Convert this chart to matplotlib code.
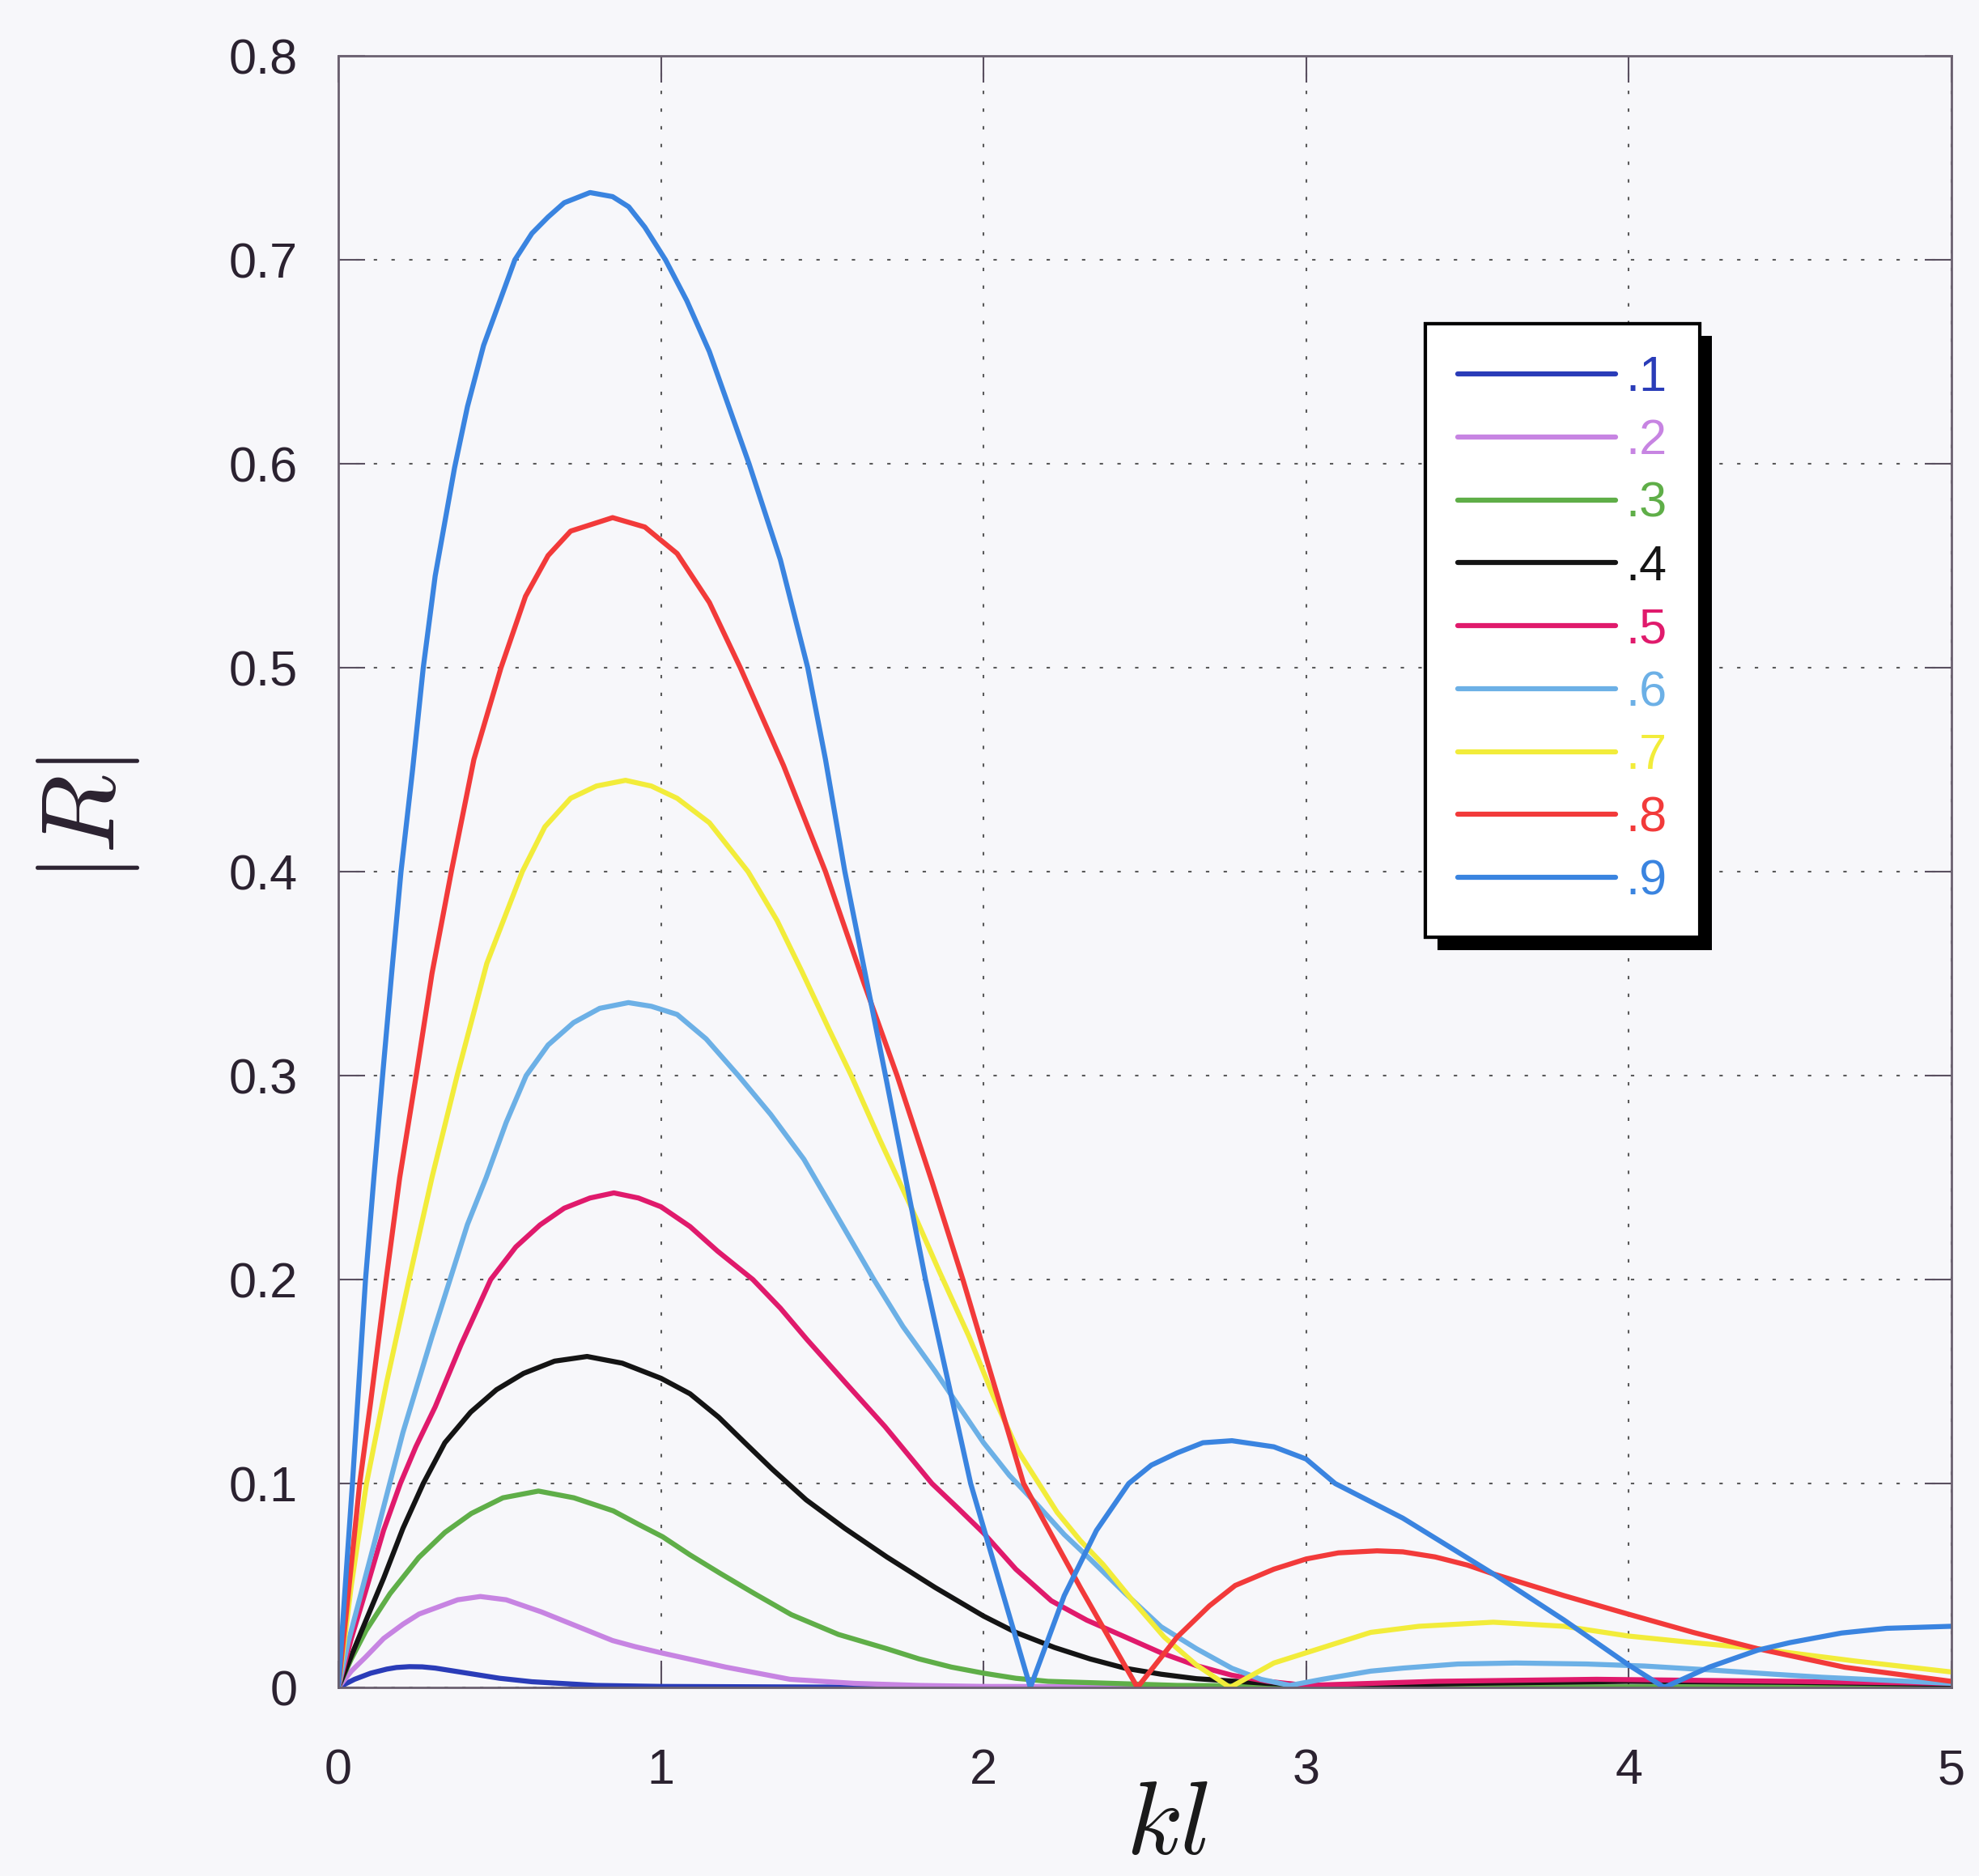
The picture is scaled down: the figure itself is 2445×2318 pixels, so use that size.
import matplotlib
matplotlib.use('Agg')
import matplotlib.pyplot as plt
import matplotlib.patheffects as pe

plt.rcParams['font.family'] = ['Liberation Sans', 'DejaVu Sans']
plt.rcParams['mathtext.fontset'] = 'cm'

# |R|, one (kl, |R|) list per parameter value
labels = ['.1', '.2', '.3', '.4', '.5', '.6', '.7', '.8', '.9']
colors = ['#2a3cb8', '#c784e2', '#5fae48', '#141414', '#e01a6c',
          '#6cb0e6', '#f2ec3a', '#f23a3a', '#3a84e0']

kl_1 = [0, 0.05, 0.1, 0.15, 0.18, 0.22, 0.26, 0.3, 0.4, 0.5, 0.6, 0.8, 1.0, 1.5, 2.0,
        3.0, 4.0, 5.0]
r_1 = [0, 0.004, 0.007, 0.009, 0.0098, 0.0102, 0.0101, 0.0095, 0.007, 0.0045, 0.0028,
       0.001, 0.0005, 0.0002, 0.0001, 0.0001, 0.0001, 0.0001]

kl_2 = [0, 0.04, 0.085, 0.14, 0.2, 0.25, 0.31, 0.37, 0.44, 0.52, 0.63, 0.74, 0.85, 0.92,
        1.0, 1.1, 1.2, 1.3, 1.4, 1.6, 1.8, 2.0, 3.0, 4.0, 5.0]
r_2 = [0, 0.008, 0.015, 0.024, 0.031, 0.036, 0.0395, 0.043, 0.0446, 0.043, 0.037, 0.03,
       0.023, 0.02, 0.017, 0.0135, 0.010, 0.007, 0.004, 0.002, 0.001, 0.0005, 0.0002,
       0.0002, 0.0002]

kl_3 = [0, 0.04, 0.086, 0.16, 0.249, 0.33, 0.412, 0.51, 0.62, 0.73, 0.852, 0.93, 1.005,
        1.09, 1.183, 1.29, 1.404, 1.55, 1.7, 1.8, 1.9, 2.0, 2.1, 2.2, 2.6, 3.5, 5.0]
r_3 = [0, 0.014, 0.028, 0.046, 0.0637, 0.076, 0.0853, 0.093, 0.0963, 0.093, 0.0866, 0.08,
       0.0739, 0.065, 0.056, 0.046, 0.0357, 0.026, 0.019, 0.014, 0.01, 0.007, 0.0045,
       0.003, 0.001, 0.0003, 0.0003]

kl_4 = [0, 0.07, 0.14, 0.2, 0.263, 0.33, 0.41, 0.49, 0.574, 0.67, 0.771, 0.88, 1.0, 1.09,
        1.179, 1.26, 1.345, 1.45, 1.57, 1.7, 1.85, 2.0, 2.1, 2.22, 2.33, 2.44, 2.55, 2.66,
        2.88, 3.1, 3.5, 4.0, 4.5, 5.0]
r_4 = [0, 0.027, 0.0535, 0.078, 0.1, 0.12, 0.135, 0.146, 0.154, 0.16, 0.1623, 0.159,
       0.1516, 0.144, 0.1325, 0.12, 0.107, 0.092, 0.078, 0.064, 0.049, 0.035, 0.027,
       0.0196, 0.014, 0.0094, 0.0065, 0.0043, 0.002, 0.0008, 0.002, 0.003, 0.0025, 0.0015]

kl_5 = [0, 0.04, 0.084, 0.14, 0.192, 0.24, 0.30, 0.38, 0.472, 0.55, 0.625, 0.7, 0.78,
        0.854, 0.93, 1.0, 1.09, 1.175, 1.285, 1.37, 1.452, 1.58, 1.694, 1.84, 1.92, 2.0,
        2.1, 2.21, 2.32, 2.44, 2.55, 2.66, 2.77, 2.88, 3.0, 3.4, 3.9, 4.5, 5.0]
r_5 = [0, 0.024, 0.047, 0.077, 0.1, 0.118, 0.1376, 0.168, 0.2, 0.216, 0.2268, 0.235,
       0.24, 0.2425, 0.24, 0.2357, 0.226, 0.214, 0.2, 0.186, 0.1707, 0.148, 0.128, 0.1,
       0.088, 0.0757, 0.058, 0.0425, 0.033, 0.0247, 0.017, 0.0107, 0.006, 0.003, 0.001,
       0.003, 0.004, 0.003, 0.002]

kl_6 = [0, 0.03, 0.07, 0.11, 0.159, 0.2, 0.244, 0.29, 0.346, 0.4, 0.458, 0.52, 0.582,
        0.65, 0.729, 0.81, 0.899, 0.97, 1.05, 1.14, 1.24, 1.34, 1.443, 1.55, 1.66, 1.75,
        1.85, 2.0, 2.08, 2.166, 2.25, 2.33, 2.44, 2.55, 2.66, 2.77, 2.86, 2.95, 3.05, 3.2,
        3.3, 3.47, 3.65, 3.87, 4.05, 4.27, 4.45, 4.6, 4.8, 5.0]
r_6 = [0, 0.022, 0.046, 0.07, 0.1, 0.125, 0.148, 0.172, 0.2, 0.227, 0.25, 0.277, 0.3,
       0.315, 0.326, 0.333, 0.3358, 0.334, 0.33, 0.318, 0.3, 0.281, 0.259, 0.23, 0.2,
       0.177, 0.155, 0.12, 0.104, 0.0897, 0.075, 0.063, 0.046, 0.0298, 0.019, 0.0094,
       0.004, 0.001, 0.004, 0.008, 0.0095, 0.0115, 0.012, 0.0115, 0.0105, 0.0084, 0.0065,
       0.005, 0.0035, 0.002]

kl_7 = [0, 0.04, 0.087, 0.15, 0.219, 0.29, 0.368, 0.46, 0.57, 0.64, 0.72, 0.8, 0.89,
        0.97, 1.05, 1.15, 1.27, 1.36, 1.437, 1.52, 1.59, 1.68, 1.774, 1.86, 1.955, 2.03,
        2.107, 2.228, 2.3, 2.37, 2.46, 2.56, 2.66, 2.764, 2.9, 3.0, 3.1, 3.2, 3.35, 3.58,
        3.8, 4.0, 4.2, 4.4, 4.7, 5.0]
r_7 = [0, 0.05, 0.1, 0.15, 0.2, 0.25, 0.3, 0.355, 0.4, 0.422, 0.436, 0.442, 0.4448,
       0.442, 0.436, 0.424, 0.4, 0.376, 0.351, 0.323, 0.3, 0.268, 0.236, 0.205, 0.172,
       0.143, 0.116, 0.0859, 0.072, 0.0604, 0.043, 0.0247, 0.011, 0, 0.012, 0.017, 0.022,
       0.027, 0.03, 0.032, 0.03, 0.0252, 0.022, 0.019, 0.013, 0.0076]

kl_8 = [0, 0.03, 0.066, 0.1, 0.148, 0.19, 0.241, 0.29, 0.35, 0.42, 0.504, 0.58, 0.65,
        0.72, 0.85, 0.95, 1.05, 1.15, 1.246, 1.38, 1.51, 1.63, 1.732, 1.84, 1.936, 2.03,
        2.124, 2.21, 2.30, 2.39, 2.477, 2.6, 2.7, 2.78, 2.9, 3.0, 3.1, 3.22, 3.3, 3.4, 3.5,
        3.58, 3.8, 4.0, 4.2, 4.4, 4.67, 5.0]
r_8 = [0, 0.045, 0.1, 0.14, 0.2, 0.25, 0.3, 0.35, 0.4, 0.455, 0.5, 0.535, 0.555, 0.567,
       0.5736, 0.569, 0.556, 0.532, 0.5, 0.452, 0.4, 0.345, 0.3, 0.248, 0.2, 0.15, 0.1,
       0.075, 0.049, 0.024, 0, 0.0247, 0.04, 0.05, 0.058, 0.063, 0.066, 0.067, 0.0665,
       0.064, 0.06, 0.0557, 0.045, 0.0359, 0.027, 0.019, 0.0099, 0.003]

kl_9 = [0, 0.02, 0.0435, 0.084, 0.11, 0.137, 0.165, 0.194, 0.23, 0.263, 0.3, 0.36, 0.4,
        0.45, 0.547, 0.6, 0.65, 0.7, 0.78, 0.85, 0.9, 0.95, 1.014, 1.08, 1.15, 1.273, 1.37,
        1.455, 1.51, 1.57, 1.696, 1.82, 1.96, 2.145, 2.25, 2.35, 2.45, 2.52, 2.6, 2.68,
        2.77, 2.9, 3.0, 3.09, 3.3, 3.58, 3.8, 4.0, 4.11, 4.25, 4.4, 4.5, 4.66, 4.8, 5.0]
r_9 = [0, 0.047, 0.1, 0.2, 0.25, 0.3, 0.35, 0.4, 0.45, 0.5, 0.545, 0.598, 0.628, 0.658,
       0.7, 0.713, 0.721, 0.728, 0.733, 0.731, 0.726, 0.716, 0.7, 0.68, 0.655, 0.6, 0.553,
       0.5, 0.455, 0.4, 0.3, 0.2, 0.1, 0, 0.045, 0.077, 0.1, 0.109, 0.115, 0.12, 0.121,
       0.118, 0.112, 0.1, 0.083, 0.0557, 0.033, 0.011, 0, 0.01, 0.0183, 0.022, 0.0267,
       0.029, 0.030]

series_kl = [kl_1, kl_2, kl_3, kl_4, kl_5, kl_6, kl_7, kl_8, kl_9]
series_r = [r_1, r_2, r_3, r_4, r_5, r_6, r_7, r_8, r_9]

x_ticks = [0, 1, 2, 3, 4, 5]
y_ticks = [0, 0.1, 0.2, 0.3, 0.4, 0.5, 0.6, 0.7, 0.8]

bg = '#f7f7fa'
fig = plt.figure(figsize=(24.45, 23.18), dpi=100, facecolor=bg)
ax = fig.add_axes([0.171, 0.1005, 0.815, 0.8697], facecolor=bg)

for kl, r, lab, col in zip(series_kl, series_r, labels, colors):
    ax.plot(kl, r, color=col, linewidth=4.5, label=lab,
            solid_joinstyle='round', solid_capstyle='round')

ax.set_xlim(0, 5)
ax.set_ylim(0, 0.8)
ax.set_xticks(x_ticks)
ax.set_yticks(y_ticks)
ax.set_xticklabels(['%g' % v for v in x_ticks])
ax.set_yticklabels(['%g' % v for v in y_ticks])
ax.tick_params(axis='both', direction='in', length=24, width=1.5, color='#5a5060',
               labelsize=44, labelcolor='#2b2230', top=True, right=True)
ax.tick_params(axis='x', pad=54)
ax.tick_params(axis='y', pad=36)

ax.grid(True, color='#5a5a5a', linestyle=(0, (2, 8.5)), linewidth=1.5)
ax.set_axisbelow(True)
for s in ax.spines.values():
    s.set_color('#6b6170')
    s.set_linewidth(2)

ax.set_xlabel(r'$kl$', fontsize=92, color='#1a1a1a')
ax.xaxis.set_label_coords(0.514, -0.086)
ax.xaxis.label.set_va('center')
ax.set_ylabel(r'$|R|$', fontsize=92, color='#2b2230')
ax.yaxis.set_label_coords(-0.155, 0.532)
ax.yaxis.label.set_va('center')

leg = ax.legend(loc='upper left', bbox_to_anchor=(0.674, 0.836), borderaxespad=0,
                fontsize=44, handlelength=3.2, handletextpad=0.2, labelspacing=0.34,
                borderpad=0.65, fancybox=False, framealpha=1, edgecolor='black')
leg.get_frame().set_linewidth(3)
leg.get_frame().set_facecolor('white')
leg.get_frame().set_path_effects([
    pe.withSimplePatchShadow(offset=(11, -11), shadow_rgbFace='black', alpha=1),
    pe.Normal()])
for t, l in zip(leg.get_texts(), leg.get_lines()):
    t.set_color(l.get_color())

fig.savefig('out.png', dpi=100, facecolor=bg)
